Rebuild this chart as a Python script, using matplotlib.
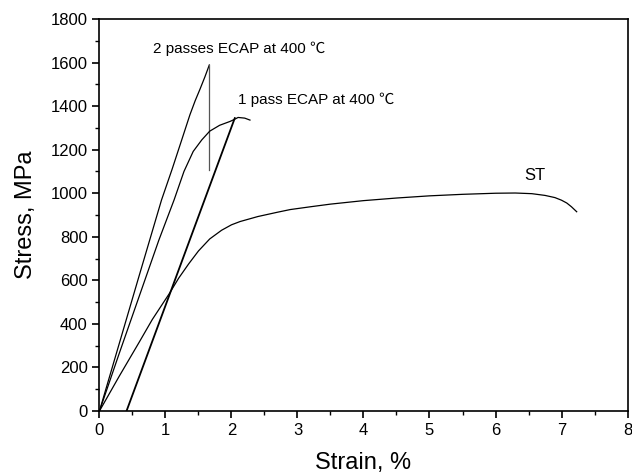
import matplotlib
matplotlib.use("Agg")
import matplotlib.pyplot as plt
from matplotlib.ticker import MultipleLocator

plt.rcParams["font.family"] = ["Liberation Sans", "Noto Sans CJK SC", "DejaVu Sans"]

# 2 passes ECAP at 400 C
strain_2p = [0, 0.3, 0.6, 0.94, 1.1, 1.245, 1.37, 1.45, 1.523, 1.598, 1.664]
stress_2p = [0, 310, 620, 969, 1110, 1244, 1360, 1425, 1478, 1535, 1589]
drop_strain = [1.664, 1.664]
drop_stress = [1589, 1107]

# 1 pass ECAP at 400 C
strain_1p = [0, 0.3, 0.6, 0.9, 1.13, 1.28, 1.42, 1.55, 1.67, 1.82, 1.98, 2.05, 2.10, 2.20, 2.28]
stress_1p = [0, 265, 525, 785, 969, 1100, 1192, 1245, 1285, 1312, 1330, 1340, 1348, 1345, 1336]

# offset line
offset_strain = [0.41, 2.05]
offset_stress = [0, 1345]

# ST
strain_st = [0, 0.3, 0.6, 0.8, 1.06, 1.2, 1.35, 1.5, 1.67, 1.85, 2.0, 2.13, 2.4, 2.7, 2.89, 3.2,
             3.5, 4.0, 4.5, 5.0, 5.5, 6.0, 6.3, 6.55, 6.75, 6.9, 7.0, 7.08, 7.15, 7.23]
stress_st = [0, 160, 315, 420, 540, 610, 675, 735, 790, 830, 855, 870, 893, 913, 925, 938,
             950, 966, 978, 988, 995, 1000, 1001, 998, 990, 980, 968, 955, 938, 915]

fig = plt.figure(figsize=(6.32, 4.76), dpi=100)
ax = fig.add_axes([0.1574, 0.1366, 0.8355, 0.8234])

lw = 0.9
ax.plot(strain_2p, stress_2p, color="black", lw=lw)
ax.plot(drop_strain, drop_stress, color="#555555", lw=lw)
ax.plot(strain_1p, stress_1p, color="black", lw=lw)
ax.plot(offset_strain, offset_stress, color="black", lw=1.3)
ax.plot(strain_st, stress_st, color="black", lw=lw)

ax.text(0.81, 1662, "2 passes ECAP at 400 \u2103", fontsize=11, va="center")
ax.text(2.10, 1428, "1 pass ECAP at 400 \u2103", fontsize=11, va="center")
ax.text(6.43, 1083, "ST", fontsize=12, va="center")

ax.set_xlim(0, 8)
ax.set_ylim(0, 1800)
ax.xaxis.set_major_locator(MultipleLocator(1))
ax.xaxis.set_minor_locator(MultipleLocator(0.5))
ax.yaxis.set_major_locator(MultipleLocator(200))
ax.yaxis.set_minor_locator(MultipleLocator(100))
ax.tick_params(which="major", direction="out", length=5, width=1.2, labelsize=12)
ax.tick_params(which="minor", direction="out", length=3, width=1.0)
for s in ax.spines.values():
    s.set_linewidth(1.2)

ax.set_xlabel("Strain, %", fontsize=17, labelpad=10)
ax.set_ylabel("Stress, MPa", fontsize=17, labelpad=10)

fig.savefig("out.png", dpi=100)
